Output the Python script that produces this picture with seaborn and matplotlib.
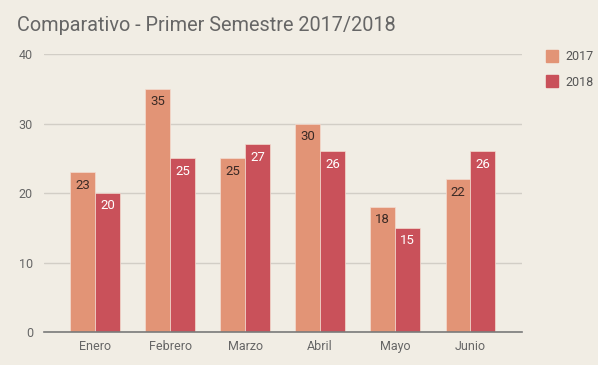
import pandas as pd
import numpy as np
import matplotlib.pyplot as plt
import seaborn as sns

# data
meses = ["Enero", "Febrero", "Marzo", "Abril", "Mayo", "Junio"]
valores_2017 = [23, 35, 25, 30, 18, 22]
valores_2018 = [20, 25, 27, 26, 15, 26]

df = pd.DataFrame({
    "Mes": meses * 2,
    "Valor": valores_2017 + valores_2018,
    "Año": ["2017"] * len(meses) + ["2018"] * len(meses),
})

bg = "#f1ede4"
colores = {"2017": "#e29476", "2018": "#c9515a"}

sns.set_theme(style="white")
plt.rcParams["font.family"] = ["Roboto", "DejaVu Sans"]

fig = plt.figure(figsize=(5.98, 3.65), dpi=100, facecolor=bg)
ax = fig.add_axes([0.0736, 0.0904, 0.7994, 0.7616])
ax.set_facecolor(bg)

sns.barplot(data=df, x="Mes", y="Valor", hue="Año", palette=colores,
            width=0.66, saturation=1, ax=ax, zorder=3, legend=False,
            edgecolor="#f4dcd0", linewidth=0.5)

ax.set_ylim(0, 40)
ax.set_xlim(-0.68, 5.69)
ax.set_yticks([0, 10, 20, 30, 40])
ax.yaxis.grid(True, color="#d2cec6", linewidth=1)
ax.set_axisbelow(True)
for s in ["top", "right", "left"]:
    ax.spines[s].set_visible(False)
ax.spines["bottom"].set_color("#7a7a7a")
ax.spines["bottom"].set_linewidth(1.2)
ax.spines["bottom"].set_zorder(4)
ax.set_xlabel("")
ax.set_ylabel("")
ax.tick_params(axis="both", length=0, labelsize=9, colors="#666666")
ax.tick_params(axis="y", pad=8)
ax.tick_params(axis="x", pad=6)

# labels inside bars
for cont, col in zip(ax.containers, ["#3a2a25", "white"]):
    ax.bar_label(cont, padding=-14, color=col, fontsize=9.5)

# legend
from matplotlib.patches import Patch
handles = [Patch(color=colores[k], label=k) for k in ["2017", "2018"]]
fig.legend(handles=handles, loc="upper left", bbox_to_anchor=(0.895, 0.895),
           frameon=False, fontsize=9, handlelength=0.9, handleheight=1.1,
           labelspacing=1.0, labelcolor="#555555", handletextpad=0.6)

fig.text(0.028, 0.93, "Comparativo - Primer Semestre 2017/2018",
         fontsize=14.3, color="#666666", va="center", ha="left")

fig.savefig("out.png", dpi=100, facecolor=bg)
